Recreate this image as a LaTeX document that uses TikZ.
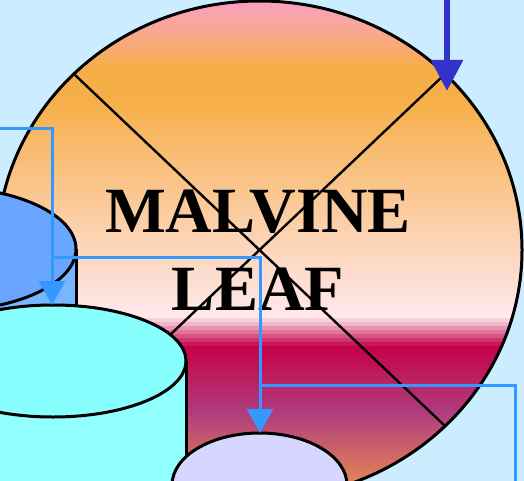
\documentclass[tikz,border=0pt]{standalone}
\usepackage{fontspec}
\setmainfont{Liberation Serif}
\usetikzlibrary{arrows.meta,shapes.geometric}

\definecolor{skyback}{HTML}{CCECFF}
\definecolor{linkblue}{HTML}{3399FF}
\definecolor{inblue}{HTML}{3333CC}
\definecolor{storeblue}{HTML}{6AA6FF}
\definecolor{storebluebody}{HTML}{78B6FF}
\definecolor{storecyan}{HTML}{88FFFF}
\definecolor{storecyanbody}{HTML}{92FFFF}
\definecolor{storelilac}{HTML}{D6D6FF}
\definecolor{leafpink}{HTML}{F9A0C2}
\definecolor{leafsalmon}{HTML}{F8A88A}
\definecolor{leaforange}{HTML}{F6AE48}
\definecolor{leafpeach}{HTML}{FCD4B6}
\definecolor{leafblush}{HTML}{FFE8EE}
\definecolor{leafcrimson}{HTML}{C4004A}
\definecolor{leafrose}{HTML}{BE1A5C}
\definecolor{leafplum}{HTML}{B03A80}
\definecolor{leafcoral}{HTML}{CC6468}
\definecolor{leafamber}{HTML}{EA9650}

\begin{document}
\begin{tikzpicture}[
x=1pt, y=-1pt, % one unit = one pixel, y runs downwards
outline/.style={draw=black, line width=3pt},
leafshape/.style={ellipse, draw=black, line width=3pt, outer sep=0pt,
  minimum width=525pt, minimum height=498pt},
cross/.style={draw=black, line width=2.4pt},
title/.style={font=\fontsize{64.5}{78}\selectfont\bfseries, align=center, inner sep=0pt},
link/.style={draw=linkblue, line width=3pt, -{Triangle[length=24pt, width=26pt]}},
feed/.style={draw=linkblue, line width=3pt},
inflow/.style={draw=inblue, line width=6pt, -{Triangle[length=31pt, width=31pt]}}
]

\useasboundingbox[fill=skyback] (0,0) rectangle (524,481);

% ================= Leaf =================
\begin{scope}
\clip (259.5,250) ellipse [x radius=262.5pt, y radius=249pt];
\shade[top color=leafpink, bottom color=leafsalmon] (0,0) rectangle (524,36);
\shade[top color=leafsalmon, bottom color=leaforange] (0,35) rectangle (524,69);
\fill[leaforange] (0,68) rectangle (524,101);
\shade[top color=leaforange, bottom color=leafpeach] (0,100) rectangle (524,241);
\shade[top color=leafpeach, bottom color=leafblush] (0,240) rectangle (524,319);
\foreach \y/\p in {318/10, 322/22, 326/36, 330/50, 334/64, 338/78, 342/90}
  \fill[leafcrimson!\p!leafblush] (0,\y) rectangle (524,\y+5);
\shade[top color=leafcrimson, bottom color=leafrose] (0,346) rectangle (524,373);
\shade[top color=leafrose, bottom color=leafplum] (0,372) rectangle (524,411);
\shade[top color=leafplum, bottom color=leafcoral] (0,410) rectangle (524,451);
\shade[top color=leafcoral, bottom color=leafamber] (0,450) rectangle (524,500);
\end{scope}

\node[leafshape] (leaf) at (259.5,250) {};
\draw[cross] (leaf.north west) -- (leaf.south east);
\draw[cross] (leaf.north east) -- (leaf.south west);

\node[title] (name) at (258,250) {MALVINE\\LEAF};

% ================= Stores =================
% left store, mostly outside the frame
\fill[storebluebody] (-200,249) rectangle (76,330);
\draw[outline] (76,249) -- (76,330);
\draw[outline, fill=storeblue] (-57,249) ellipse [x radius=133pt, y radius=62pt];

% middle store
\fill[storecyanbody] (-90,361) rectangle (186,500);
\draw[outline] (186,361) -- (186,500);
\draw[outline, fill=storecyan] (53,361) ellipse [x radius=133pt, y radius=56pt];

% lower store
\draw[outline, fill=storelilac] (259.5,485) ellipse [x radius=87.5pt, y radius=52pt];

% ================= Links =================
\coordinate (inA) at (0,129);
\coordinate (cyanTop) at (52,305);
\coordinate (splitA) at (52,257);
\coordinate (lilacTop) at (260,433);
\coordinate (splitB) at (260,385);
\coordinate (outC) at (515.5,490);
\coordinate (feedTop) at (447,-5);
\coordinate (leafHit) at (447,91);

\draw[link] (inA) -| (cyanTop);
\draw[link] (splitA) -| (lilacTop);
\draw[feed] (splitB) -| (outC);
\draw[inflow] (feedTop) -- (leafHit);

\end{tikzpicture}
\end{document}
